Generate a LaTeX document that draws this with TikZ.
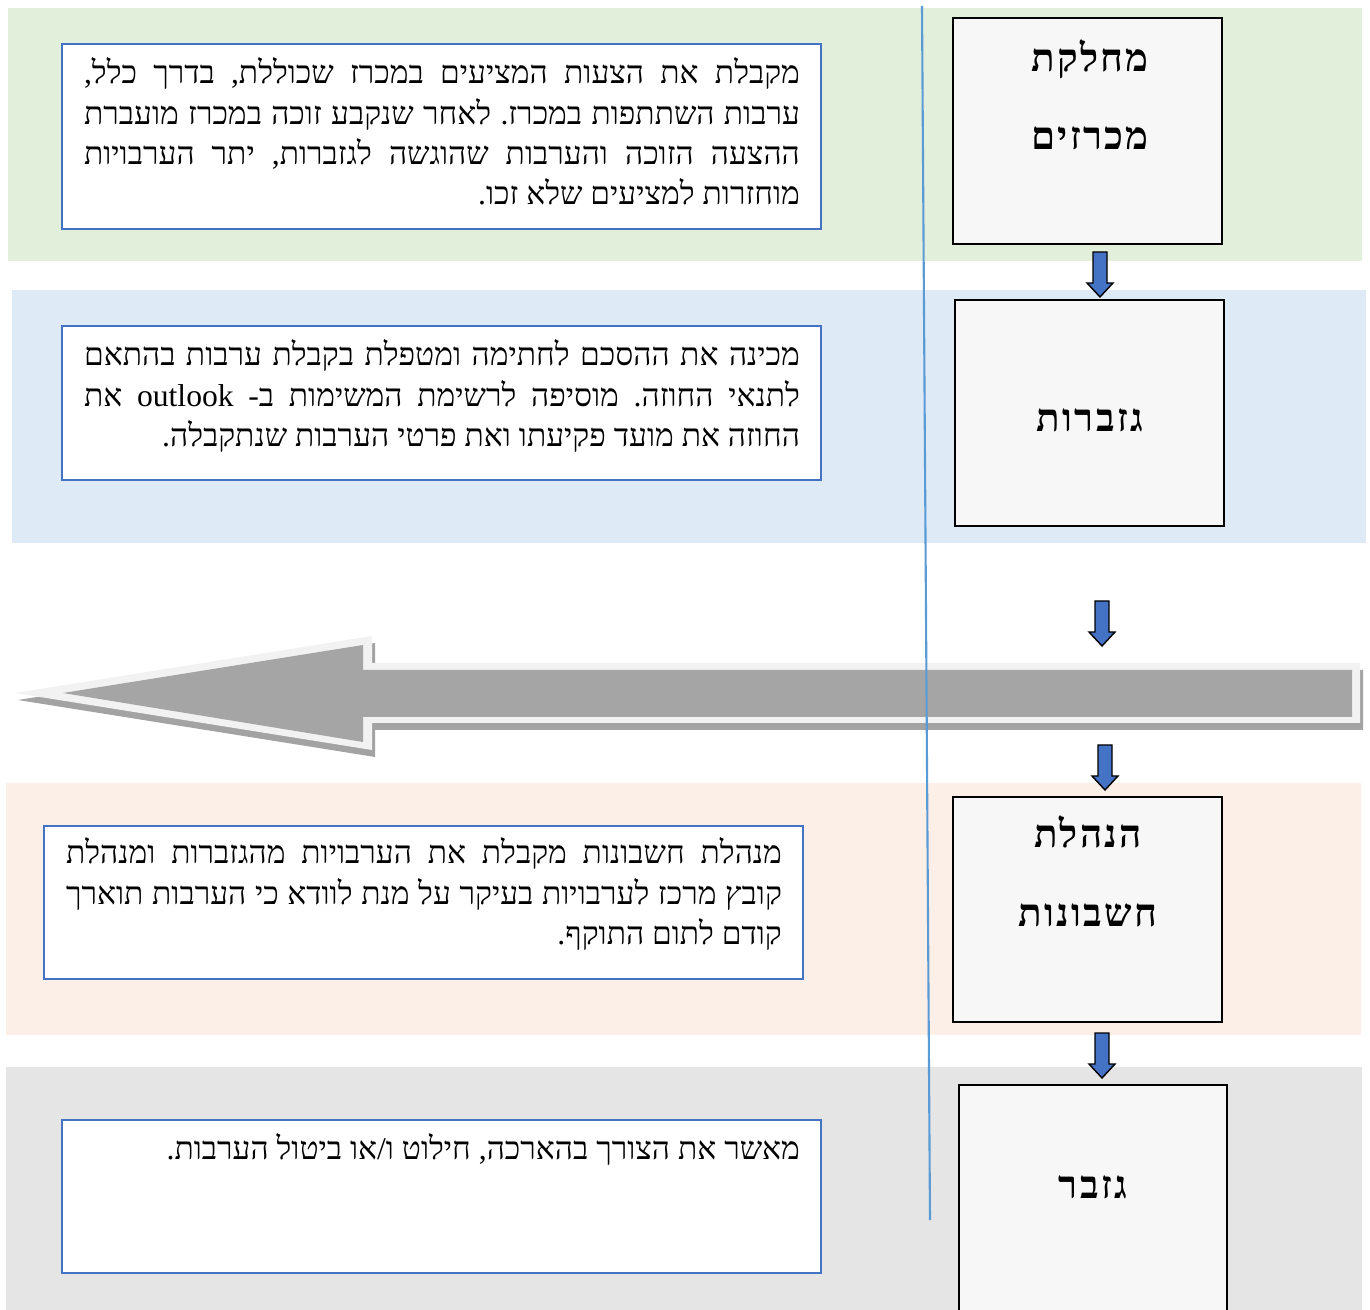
\documentclass[tikz,border=0pt]{standalone}
\usepackage{fontspec}
\usepackage{xcolor}
\usepackage{tikz}
\usetikzlibrary{positioning}

\TeXXeTstate=1
\frenchspacing
\newfontfamily\hebfont[Script=Hebrew]{Liberation Serif}
\newfontfamily\lblfont[Script=Hebrew,LetterSpace=6]{Liberation Serif}

\definecolor{bandgreen}{HTML}{E2EFDA}
\definecolor{bandblue}{HTML}{DEEBF7}
\definecolor{bandpeach}{HTML}{FCEFE8}
\definecolor{bandgray}{HTML}{E5E5E5}
\definecolor{boxfill}{HTML}{F7F7F7}
\definecolor{txtborder}{HTML}{4472C4}
\definecolor{arrblue}{HTML}{4472C4}
\definecolor{linesky}{HTML}{5B9BD5}
\definecolor{bigbody}{HTML}{A5A5A5}
\definecolor{bigrim}{HTML}{F2F2F2}
\definecolor{bigshadow}{HTML}{A3A3A3}

\begin{document}
\begin{tikzpicture}[x=0.02cm,y=-0.02cm,
  unitbox/.style={draw=black,line width=1.3pt,fill=boxfill,minimum width=5.38cm,minimum height=4.52cm,inner sep=0pt},
  txtbox/.style={draw=txtborder,line width=1.3pt,fill=white,minimum width=15.18cm,inner sep=0pt},
  txt/.style={text width=14.32cm,align=justify,inner sep=0pt,anchor=base,font=\hebfont\fontsize{18}{22.8}\selectfont},
  unitlbl/.style={inner sep=0pt,anchor=base,font=\lblfont\bfseries\fontsize{22}{24}\selectfont},
  blkarr/.style={fill=arrblue,draw=black,line width=0.8pt,line join=miter},
  downarr/.pic={\draw[blkarr] (-7,0) -- (7,0) -- (7,31) -- (13,31) -- (0,45) -- (-13,31) -- (-7,31) -- cycle;}]

\useasboundingbox (0,0) rectangle (1370,1310);
\clip (0,0) rectangle (1370,1310);

% --- Bands ---
\fill[bandgreen] (8,8) rectangle (1362,261);
\fill[bandblue] (12,290) rectangle (1366,543);
\fill[bandpeach] (6,783) rectangle (1361,1035);
\fill[bandgray] (6,1067) rectangle (1362,1312);

% --- Text boxes ---
\node[txtbox,minimum height=3.7cm] (t1) at (441.5,136.5) {};
\node[txt] (t1txt) at (442,84) {\beginR מקבלת את הצעות המציעים במכרז שכוללת, בדרך כלל,\linebreak ערבות השתתפות במכרז. לאחר שנקבע זוכה במכרז מועברת\linebreak ההצעה הזוכה והערבות שהוגשה לגזברות, יתר הערבויות\linebreak מוחזרות למציעים שלא זכו.\hfill\endR};

\node[txtbox,minimum height=3.08cm] (t2) at (441.5,403) {};
\node[txt] (t2txt) at (442,366) {\beginR מכינה את ההסכם לחתימה ומטפלת בקבלת ערבות בהתאם\linebreak לתנאי החוזה. מוסיפה לרשימת המשימות ב- \beginL outlook\endL{} את\linebreak החוזה את מועד פקיעתו ואת פרטי הערבות שנתקבלה.\hfill\endR};

\node[txtbox,minimum height=3.06cm] (t3) at (423.5,902.5) {};
\node[txt] (t3txt) at (424,864) {\beginR מנהלת חשבונות מקבלת את הערבויות מהגזברות ומנהלת\linebreak קובץ מרכז לערבויות בעיקר על מנת לוודא כי הערבות תוארך\linebreak קודם לתום התוקף.\hfill\endR};

\node[txtbox,minimum height=3.06cm] (t4) at (441.5,1196.5) {};
\node[txt] (t4txt) at (442,1159) {\beginR מאשר את הצורך בהארכה, חילוט ו/או ביטול הערבות.\hfill\endR};

% --- Unit boxes ---
\node[unitbox] (b1) at (1087.5,131) {};
\node[unitlbl] (b1a) at (1090,72) {\beginR מחלקת\endR};
\node[unitlbl] (b1b) at (1090,150) {\beginR מכרזים\endR};

\node[unitbox] (b2) at (1089.5,413) {};
\node[unitlbl] (b2a) at (1090,432) {\beginR גזברות\endR};

\node[unitbox,minimum height=4.5cm] (b3) at (1087.5,909.5) {};
\node[unitlbl] (b3a) at (1088,848) {\beginR הנהלת\endR};
\node[unitlbl] (b3b) at (1088,927) {\beginR חשבונות\endR};

\node[unitbox,minimum width=5.36cm,minimum height=4.7cm] (b4) at (1093,1202.5) {};
\node[unitlbl] (b4a) at (1093,1198) {\beginR גזבר\endR};

% --- Down arrows ---
\pic at (1100,252) {downarr};
\pic at (1102,601) {downarr};
\pic at (1105,745) {downarr};
\pic at (1102,1033) {downarr};

% --- Big arrow ---
\fill[bigshadow] (18,700) -- (375,643) -- (375,670) -- (1363,670) -- (1363,730) -- (375,730) -- (375,757) -- cycle;
\fill[bigrim] (15,693) -- (372,636) -- (372,663) -- (1360,663) -- (1360,723) -- (372,723) -- (372,750) -- cycle;
\fill[bigbody] (63,693) -- (363,645) -- (363,670) -- (1352,670) -- (1352,717) -- (363,717) -- (363,742) -- cycle;

% --- Divider ---
\draw[linesky,line width=1.2pt] (922,6) -- (930,1220);

\end{tikzpicture}
\end{document}
